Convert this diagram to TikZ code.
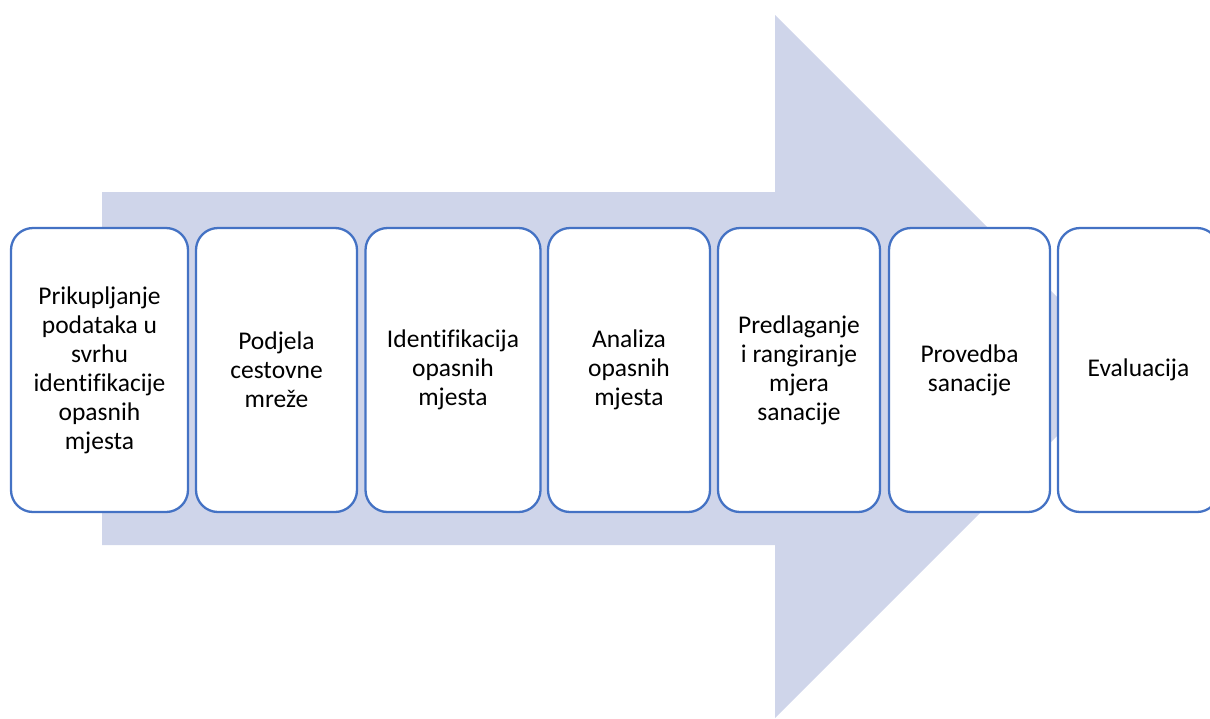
\documentclass[tikz,border=0pt]{standalone}
\usepackage{fontspec}
\setmainfont{Carlito}[Ligatures=NoCommon]
\definecolor{arrowfill}{RGB}{207,213,234}
\definecolor{boxline}{RGB}{68,114,196}
\begin{document}
\begin{tikzpicture}[x=1pt,y=-1pt,
  stagebox/.style={draw=boxline, line width=2.3pt, fill=white, rounded corners=22pt,
    minimum height=284pt, align=center, inner sep=0pt,
    font=\fontsize{25.5pt}{29pt}\selectfont, text=black}]
\useasboundingbox (0,0) rectangle (1210,718);
\clip (0,0) rectangle (1210,718);
\fill[arrowfill] (102,192) -- (775,192) -- (775,15) -- (1126.5,366.5) -- (775,718) -- (775,545) -- (102,545) -- cycle;
\node[stagebox, minimum width=177pt] (b1) at (99.5,370) {Prikupljanje\\podataka u\\svrhu\\identifikacije\\opasnih\\mjesta};
\node[stagebox, minimum width=161pt] (b2) at (276.5,370) {Podjela\\cestovne\\mreže};
\node[stagebox, minimum width=175pt] (b3) at (453,370) {Identifikacija\\opasnih\\mjesta};
\node[stagebox, minimum width=162pt] (b4) at (629,370) {Analiza\\opasnih\\mjesta};
\node[stagebox, minimum width=162pt] (b5) at (799,370) {Predlaganje\\i rangiranje\\mjera\\sanacije};
\node[stagebox, minimum width=161pt] (b6) at (969.5,370) {Provedba\\sanacije};
\node[stagebox, minimum width=161pt] (b7) at (1138.5,370) {Evaluacija};
\end{tikzpicture}
\end{document}
